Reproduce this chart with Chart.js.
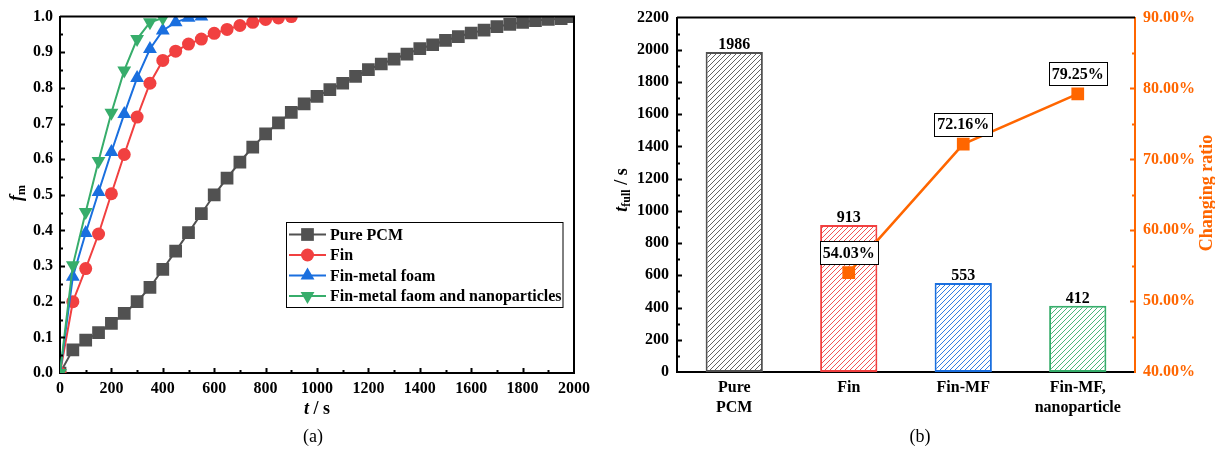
<!DOCTYPE html>
<html>
<head>
<meta charset="utf-8">
<script src="https://cdn.jsdelivr.net/npm/chart.js@4"></script>
<style>
  html, body { margin: 0; padding: 0; background: #fff; }
  #wrap { position: relative; width: 1215px; height: 449px; overflow: hidden; }
  #leftChart { position: absolute; left: 0; top: 0; }
  #rightChart { position: absolute; left: 600px; top: 0; }
</style>
</head>
<body>
<div id="wrap">
  <canvas id="leftChart" width="600" height="449"></canvas>
  <canvas id="rightChart" width="615" height="449"></canvas>
</div>
<script>
// (a) melt fraction vs time
const pureT = [0, 50, 100, 150, 200, 250, 300, 350, 400, 450, 500, 550, 600, 650, 700, 750, 800, 850, 900, 950,
  1000, 1050, 1100, 1150, 1200, 1250, 1300, 1350, 1400, 1450, 1500, 1550, 1600, 1650, 1700, 1750, 1800, 1850, 1900, 1950, 1986];
const pureF = [0, 0.065, 0.092, 0.113, 0.139, 0.167, 0.2, 0.24, 0.291, 0.342, 0.394, 0.447, 0.5, 0.547, 0.592, 0.634, 0.671, 0.702, 0.731, 0.755,
  0.776, 0.795, 0.813, 0.832, 0.851, 0.867, 0.881, 0.895, 0.91, 0.921, 0.933, 0.944, 0.954, 0.962, 0.972, 0.978, 0.984, 0.989, 0.992, 0.994, 1.0];
const finT = [0, 50, 100, 150, 200, 250, 300, 350, 400, 450, 500, 550, 600, 650, 700, 750, 800, 850, 900];
const finF = [0, 0.2, 0.293, 0.39, 0.503, 0.613, 0.718, 0.813, 0.877, 0.903, 0.923, 0.937, 0.953, 0.964, 0.975, 0.984, 0.992, 0.996, 1.0];
const foamT = [0, 50, 100, 150, 200, 250, 300, 350, 400, 450, 500, 550];
const foamF = [0, 0.27, 0.393, 0.508, 0.62, 0.727, 0.828, 0.909, 0.961, 0.984, 0.997, 1.0];
const nanoT = [0, 50, 100, 150, 200, 250, 300, 350, 400];
const nanoF = [0, 0.302, 0.452, 0.595, 0.73, 0.849, 0.937, 0.984, 0.996];
const seriesNames = ["Pure PCM", "Fin", "Fin-metal foam", "Fin-metal faom and nanoparticles"];

// (b) full melting time and changing ratio
const cases = [["Pure", "PCM"], "Fin", "Fin-MF", ["Fin-MF,", "nanoparticle"]];
const tFull = [1986, 913, 553, 412];
const ratio = [null, 54.03, 72.16, 79.25];

const SERIF = '"Liberation Serif", "Times New Roman", serif';
const GRAY = "#515151", RED = "#F14040", BLUE = "#1A6FDF", GREEN = "#37AD6B", ORANGE = "#FF6600";

Chart.defaults.font.family = SERIF;
Chart.defaults.font.size = 16;
Chart.defaults.font.weight = "bold";
Chart.defaults.color = "#000";

function pts(xs, ys) {
  return xs.map((x, i) => ({ x: x, y: ys[i] }));
}

// text made of several pieces (italic, subscript...), centred at cx, cy
function richText(ctx, parts, cx, cy, rot, color) {
  ctx.save();
  ctx.translate(cx, cy);
  ctx.rotate(rot);
  let w = 0;
  parts.forEach(p => { ctx.font = p.font; p.w = ctx.measureText(p.text).width; w += p.w; });
  let x = -w / 2;
  ctx.textAlign = "left";
  ctx.textBaseline = "middle";
  ctx.fillStyle = color;
  parts.forEach(p => { ctx.font = p.font; ctx.fillText(p.text, x, p.dy || 0); x += p.w; });
  ctx.restore();
}

// inward tick marks
function inTicks(ctx, scale, vals, len, side) {
  ctx.beginPath();
  vals.forEach(v => {
    const p = Math.round(scale.getPixelForValue(v)) + 0.5;
    if (side === "bottom") { ctx.moveTo(p, scale.top); ctx.lineTo(p, scale.top - len); }
    if (side === "left") { ctx.moveTo(scale.right, p); ctx.lineTo(scale.right + len, p); }
    if (side === "right") { ctx.moveTo(scale.left, p); ctx.lineTo(scale.left - len, p); }
  });
  ctx.stroke();
}

function range(a, b, s) {
  const out = [];
  for (let v = a; v <= b + 1e-9; v += s) out.push(+v.toFixed(4));
  return out;
}

// ---------- left chart ----------
const leftDecor = {
  id: "leftDecor",
  afterDraw(chart) {
    const ctx = chart.ctx, a = chart.chartArea;
    const xs = chart.scales.x, ys = chart.scales.y;
    ctx.save();
    ctx.strokeStyle = "#000";
    ctx.lineWidth = 2;
    ctx.beginPath();
    ctx.moveTo(a.left, a.top); ctx.lineTo(a.right, a.top); ctx.lineTo(a.right, a.bottom);
    ctx.stroke();
    inTicks(ctx, xs, range(200, 1800, 200), 5, "bottom");
    inTicks(ctx, xs, range(100, 1900, 200), 3, "bottom");
    inTicks(ctx, ys, range(0.1, 0.9, 0.1), 5, "left");
    inTicks(ctx, ys, range(0.05, 0.95, 0.1), 3, "left");

    // legend
    ctx.lineWidth = 1;
    ctx.fillStyle = "#fff";
    ctx.fillRect(286.5, 222.5, 276.5, 85);
    ctx.strokeRect(286.5, 222.5, 276.5, 85);
    const rows = [234.5, 255, 275.5, 296];
    [0, 1, 2, 3].forEach(i => {
      const ds = chart.data.datasets[i];
      const y = rows[i];
      ctx.strokeStyle = ds.borderColor;
      ctx.lineWidth = 2;
      ctx.beginPath(); ctx.moveTo(289, y); ctx.lineTo(326, y); ctx.stroke();
      ctx.fillStyle = ds.borderColor;
      Chart.helpers.drawPoint(ctx, { pointStyle: ds.pointStyle, radius: ds.pointRadius, rotation: ds.pointRotation || 0, borderWidth: 0 }, 307.5, y);
      ctx.fillStyle = "#000";
      ctx.font = "bold 16px " + SERIF;
      ctx.textAlign = "left";
      ctx.textBaseline = "middle";
      ctx.fillText(seriesNames[i], 330, y + 1);
    });

    // axis titles and caption
    const b18 = "bold 18px " + SERIF, bi18 = "italic bold 18px " + SERIF, b12 = "bold 12px " + SERIF;
    richText(ctx, [{ text: "t", font: bi18 }, { text: " / s", font: b18 }], (a.left + a.right) / 2, 409, 0, "#000");
    richText(ctx, [{ text: "f", font: bi18 }, { text: "m", font: b12, dy: 5 }], 17, 193, -Math.PI / 2, "#000");
    richText(ctx, [{ text: "(a)", font: "18px " + SERIF }], 313, 437, 0, "#000");
    ctx.restore();
  }
};

new Chart(document.getElementById("leftChart").getContext("2d"), {
  type: "line",
  data: {
    datasets: [
      { label: seriesNames[0], data: pts(pureT, pureF), borderColor: GRAY, backgroundColor: GRAY,
        pointStyle: "rect", pointRadius: 9, order: 4 },
      { label: seriesNames[1], data: pts(finT, finF), borderColor: RED, backgroundColor: RED,
        pointStyle: "circle", pointRadius: 6.5, order: 3 },
      { label: seriesNames[2], data: pts(foamT, foamF), borderColor: BLUE, backgroundColor: BLUE,
        pointStyle: "triangle", pointRadius: 8, order: 2 },
      { label: seriesNames[3], data: pts(nanoT, nanoF), borderColor: GREEN, backgroundColor: GREEN,
        pointStyle: "triangle", pointRotation: 180, pointRadius: 8, order: 1 }
    ]
  },
  options: {
    responsive: false,
    animation: false,
    datasets: { line: { borderWidth: 2, pointBorderWidth: 0, tension: 0 } },
    layout: { padding: { top: 16, right: 26, left: 0, bottom: 0 } },
    plugins: { legend: { display: false }, tooltip: { enabled: false } },
    scales: {
      x: {
        type: "linear", min: 0, max: 2000,
        ticks: { stepSize: 200, padding: 6, maxRotation: 0, callback: v => String(v) },
        grid: { display: false, drawTicks: false },
        border: { display: true, color: "#000", width: 2 },
        afterFit(s) { s.height = 76; }
      },
      y: {
        min: 0, max: 1,
        ticks: { stepSize: 0.1, padding: 7, callback: v => v.toFixed(1) },
        grid: { display: false, drawTicks: false },
        border: { display: true, color: "#000", width: 2 },
        afterFit(s) { s.width = 60; }
      }
    }
  },
  plugins: [leftDecor]
});

// ---------- right chart ----------
function hatch(color) {
  const c = document.createElement("canvas");
  c.width = 5; c.height = 5;
  const g = c.getContext("2d");
  g.fillStyle = "#fff";
  g.fillRect(0, 0, 5, 5);
  g.strokeStyle = color;
  g.lineWidth = 0.9;
  g.beginPath();
  g.moveTo(0, 5); g.lineTo(5, 0);
  g.moveTo(-1, 1); g.lineTo(1, -1);
  g.moveTo(4, 6); g.lineTo(6, 4);
  g.stroke();
  return g.createPattern(c, "repeat");
}

const barColors = [GRAY, RED, BLUE, GREEN];

const rightDecor = {
  id: "rightDecor",
  afterDraw(chart) {
    const ctx = chart.ctx, a = chart.chartArea;
    const y = chart.scales.y, y1 = chart.scales.y1;
    ctx.save();
    ctx.strokeStyle = "#000";
    ctx.lineWidth = 2;
    ctx.beginPath(); ctx.moveTo(a.left, a.top); ctx.lineTo(a.right, a.top); ctx.stroke();
    inTicks(ctx, y, range(200, 2000, 200), 5, "left");
    inTicks(ctx, y, range(100, 2100, 200), 3, "left");
    ctx.strokeStyle = ORANGE;
    inTicks(ctx, y1, range(50, 80, 10), 5, "right");
    inTicks(ctx, y1, range(45, 85, 10), 3, "right");

    // bar values
    ctx.fillStyle = "#000";
    ctx.font = "bold 16px " + SERIF;
    ctx.textAlign = "center";
    ctx.textBaseline = "alphabetic";
    chart.getDatasetMeta(1).data.forEach((el, i) => {
      ctx.fillText(String(tFull[i]), el.x, el.y - 3);
    });

    // boxed ratio labels
    ctx.lineWidth = 1;
    chart.getDatasetMeta(0).data.forEach((el, i) => {
      if (ratio[i] == null) return;
      const txt = ratio[i].toFixed(2) + "%";
      const w = ctx.measureText(txt).width + 6, h = 23;
      const cx = el.x, cy = el.y - 20;
      const bx = Math.round(cx - w / 2) + 0.5, by = Math.round(cy - h / 2) + 0.5;
      ctx.fillStyle = "#fff";
      ctx.fillRect(bx, by, w, h);
      ctx.strokeStyle = "#000";
      ctx.strokeRect(bx, by, w, h);
      ctx.fillStyle = "#000";
      ctx.textBaseline = "middle";
      ctx.fillText(txt, cx, cy + 1);
    });

    const b18 = "bold 18px " + SERIF, bi18 = "italic bold 18px " + SERIF, b12 = "bold 12px " + SERIF;
    richText(ctx, [{ text: "t", font: bi18 }, { text: "full", font: b12, dy: 5 }, { text: " / s", font: b18 }], 22, 190, -Math.PI / 2, "#000");
    richText(ctx, [{ text: "Changing ratio", font: b18 }], 607, 193, -Math.PI / 2, ORANGE);
    richText(ctx, [{ text: "(b)", font: "18px " + SERIF }], 320, 437, 0, "#000");
    ctx.restore();
  }
};

new Chart(document.getElementById("rightChart").getContext("2d"), {
  type: "bar",
  data: {
    labels: cases,
    datasets: [
      { type: "line", label: "Changing ratio", data: ratio, yAxisID: "y1", order: 0,
        borderColor: ORANGE, backgroundColor: ORANGE, borderWidth: 2.5,
        pointStyle: "rect", pointRadius: 9, pointBorderWidth: 0, tension: 0 },
      { type: "bar", label: "t_full", data: tFull, yAxisID: "y", order: 1,
        backgroundColor: barColors.map(hatch), borderColor: barColors, borderWidth: 2,
        borderSkipped: false, barPercentage: 0.5, categoryPercentage: 1.0 }
    ]
  },
  options: {
    responsive: false,
    animation: false,
    layout: { padding: { top: 16, right: 0, left: 0, bottom: 0 } },
    plugins: { legend: { display: false }, tooltip: { enabled: false } },
    scales: {
      x: {
        ticks: { padding: 5, maxRotation: 0, autoSkip: false, font: { lineHeight: 1.3 } },
        grid: { display: false, drawTicks: false },
        border: { display: true, color: "#000", width: 2 },
        afterFit(s) { s.height = 77; }
      },
      y: {
        position: "left", min: 0, max: 2200,
        ticks: { stepSize: 200, padding: 8, callback: v => String(v) },
        grid: { display: false, drawTicks: false },
        border: { display: true, color: "#000", width: 2 },
        afterFit(s) { s.width = 77; }
      },
      y1: {
        position: "right", min: 40, max: 90,
        ticks: { stepSize: 10, padding: 8, color: ORANGE, callback: v => v.toFixed(2) + "%" },
        grid: { display: false, drawTicks: false },
        border: { display: true, color: ORANGE, width: 2 },
        afterFit(s) { s.width = 80; }
      }
    }
  },
  plugins: [rightDecor]
});
</script>
</body>
</html>
